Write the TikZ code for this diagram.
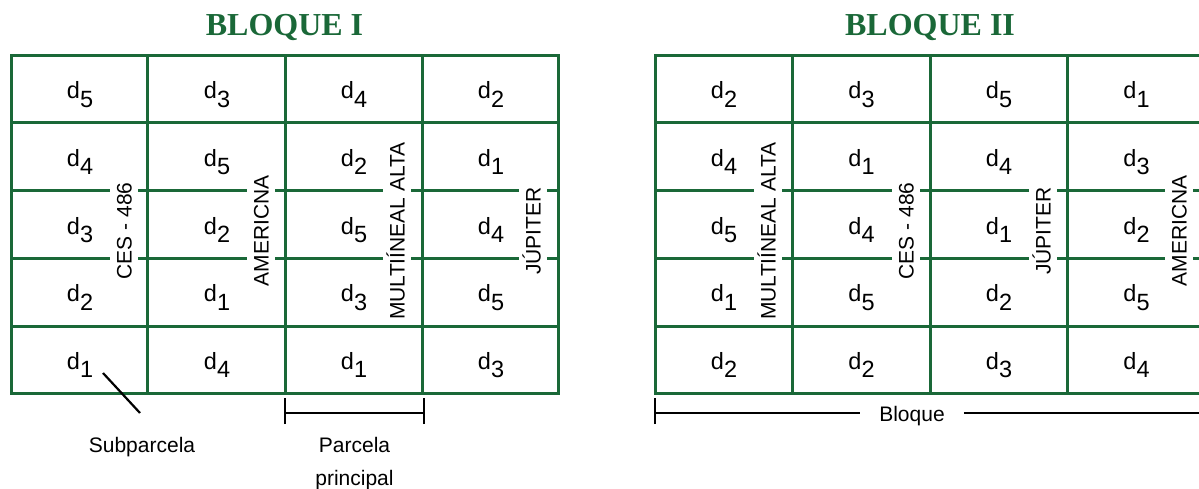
\documentclass[tikz,border=0pt]{standalone}
\usepackage{fontspec}
\setmainfont{Liberation Sans}
\newfontfamily\titlefont{Liberation Serif}
\definecolor{plotgreen}{RGB}{26,104,56}
% treatment label d with a lowered index
\newcommand{\dsub}[1]{d\raisebox{-8.5pt}{#1}}
\tikzset{
  gridline/.style={draw=plotgreen, line width=3pt},
  cell/.style={font=\fontsize{23.5}{27}\selectfont, anchor=base, inner sep=0pt},
  vlabel/.style={font=\fontsize{21}{25}\selectfont, rotate=90, fill=white,
                 text height=15pt, text depth=0pt, inner xsep=3pt, inner ysep=6.5pt},
  blocktitle/.style={font=\titlefont\bfseries\fontsize{32}{36}\selectfont,
                     text=plotgreen, anchor=base, inner sep=0pt},
  note/.style={font=\fontsize{21}{25}\selectfont, anchor=base, inner sep=0pt},
  dimline/.style={draw=black, line width=2.4pt},
}
\begin{document}
\begin{tikzpicture}[x=1pt, y=-1pt]
\path[use as bounding box, clip] (0,0) rectangle (1199,489);

% ---------- titles ----------
\node[blocktitle] (titleI)  at (284.5,36) {BLOQUE I};
\node[blocktitle] (titleII) at (930,36)   {BLOQUE II};

% ---------- block I grid ----------
\draw[gridline] (11,56) rectangle (558,393);
\foreach \x in {147,285,422} \draw[gridline] (\x,56) -- (\x,393);
\foreach \y in {123,191,258,326} \draw[gridline] (11,\y) -- (558,\y);

% ---------- block II grid ----------
\draw[gridline] (655,56) rectangle (1205,393);
\foreach \x in {792,930,1067} \draw[gridline] (\x,56) -- (\x,393);
\foreach \y in {123,191,258,326} \draw[gridline] (655,\y) -- (1205,\y);

% ---------- sub-plot treatments, block I ----------
\foreach \row [count=\r] in {{5,3,4,2},{4,5,2,1},{3,2,5,4},{2,1,3,5},{1,4,1,3}} {
  \foreach \v [count=\c] in \row {
    \pgfmathsetmacro{\cx}{80+(\c-1)*137}
    \pgfmathsetmacro{\cy}{99+(\r-1)*67.5}
    \node[cell] (a-\r-\c) at (\cx,\cy) {\dsub{\v}};
  }
}

% ---------- sub-plot treatments, block II ----------
\foreach \row [count=\r] in {{2,3,5,1},{4,1,4,3},{5,4,1,2},{1,5,2,5},{2,2,3,4}} {
  \foreach \v [count=\c] in \row {
    \pgfmathsetmacro{\cx}{724+(\c-1)*137.5}
    \pgfmathsetmacro{\cy}{99+(\r-1)*67.5}
    \node[cell] (b-\r-\c) at (\cx,\cy) {\dsub{\v}};
  }
}

% ---------- main-plot varieties ----------
\node[vlabel] (va1) at (124,231) {CES - 486};
\node[vlabel] (va2) at (261,231) {AMERICNA};
\node[vlabel] (va3) at (397,231) {MULTIÍNEAL ALTA};
\node[vlabel] (va4) at (533,231) {JÚPITER};
\node[vlabel] (vb1) at (768,231) {MULTIÍNEAL ALTA};
\node[vlabel] (vb2) at (906,231) {CES - 486};
\node[vlabel] (vb3) at (1043,231) {JÚPITER};
\node[vlabel] (vb4) at (1179,231) {AMERICNA};

% ---------- annotations ----------
\coordinate (sp-start) at (103,373);
\coordinate (sp-end)   at (140,413);
\draw[line width=2.2pt] (sp-start) -- (sp-end);
\node[note] (subparcela) at (142,452) {Subparcela};

\coordinate (pp-l) at (285,413);
\coordinate (pp-r) at (424,413);
\draw[dimline] (pp-l) -- (pp-r);
\draw[dimline] ([yshift=-11pt]pp-l) -- ([yshift=15pt]pp-l);
\draw[dimline] ([yshift=-11pt]pp-r) -- ([yshift=15pt]pp-r);
\node[note] (parcela)   at (354.5,452) {Parcela};
\node[note] (principal) at (354.5,485) {principal};

\coordinate (bq-l) at (655,413);
\coordinate (bq-r) at (1205,413);
\node[font=\fontsize{21}{25}\selectfont, inner xsep=19pt, inner ysep=0pt, anchor=base] (bloque) at (912,421) {Bloque};
\draw[dimline] (bq-l) -- (bq-l -| bloque.west);
\draw[dimline] (bq-r -| bloque.east) -- (bq-r);
\draw[dimline] ([yshift=-11pt]bq-l) -- ([yshift=15pt]bq-l);
\draw[dimline] ([yshift=-11pt]bq-r) -- ([yshift=15pt]bq-r);
\end{tikzpicture}
\end{document}
